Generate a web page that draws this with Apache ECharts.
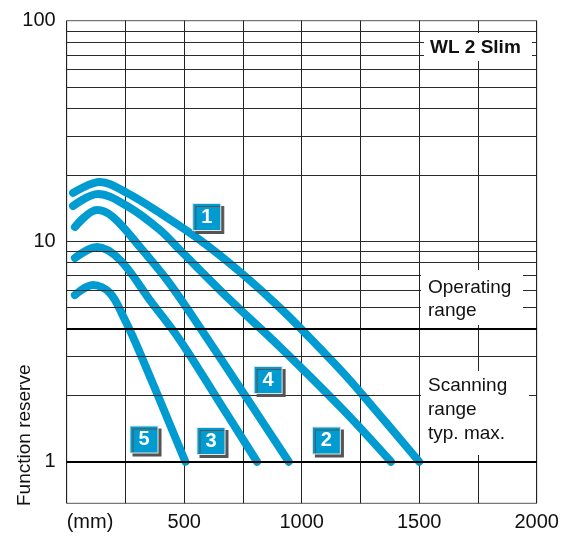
<!DOCTYPE html>
<html>
<head>
<meta charset="utf-8">
<script src="https://cdn.jsdelivr.net/npm/echarts@6/dist/echarts.min.js"></script>
<style>
  html, body { margin: 0; padding: 0; background: #fff; }
  #chart { width: 572px; height: 539px; }
</style>
</head>
<body>
<div id="chart"></div>
<script>
// scanning distance (mm) and function reserve for each curve
const distA = [27, 142, 257, 397, 567, 738, 908, 1035, 1193, 1303, 1500];
const reserveA = [16.55, 18.56, 16.55, 13.43, 10.13, 7.25, 4.98, 3.64, 2.42, 1.77, 1.0];

const distB = [27, 133, 257, 397, 482, 686, 908, 1176, 1380];
const reserveB = [14.44, 16.37, 14.44, 11.24, 9.12, 5.53, 3.31, 1.72, 1.0];

const distC = [35, 129, 197, 312, 427, 537, 738, 945];
const reserveC = [11.6, 13.85, 12.88, 9.41, 6.67, 4.53, 2.16, 1.0];

const distD = [35, 129, 227, 354, 482, 644, 810];
const reserveD = [8.39, 9.41, 8.22, 5.41, 3.56, 1.905, 1.0];

const distE = [35, 112, 184, 248, 312, 505];
const reserveE = [5.7, 6.33, 5.82, 4.39, 3.11, 1.0];

const curveNames = ['1', '2', '3', '4', '5'];
const labelDist = [596, 1105, 614, 857, 329];
const labelReserve = [12.88, 1.248, 1.241, 2.347, 1.261];

const gridValues = [2, 3, 5, 6, 7, 8, 9, 10, 20, 30, 40, 50, 60, 70, 80, 90];
const boldValues = [1, 4];
const yTickLabels = [1, 10, 100];

const blue = '#009bd0';
const font = 'Liberation Sans';

const zip = (xs, ys) => xs.map((x, i) => [x, ys[i]]);

const curve = (xs, ys) => ({
  type: 'line',
  data: zip(xs, ys),
  smooth: 0.35,
  showSymbol: false,
  silent: true,
  z: 3,
  lineStyle: { color: blue, width: 8, cap: 'round', join: 'round' }
});

const chart = echarts.init(document.getElementById('chart'));

chart.setOption({
  animation: false,
  grid: {
    left: 66.7, right: 35.3, top: 20.7, bottom: 35.7,
    show: true, borderColor: '#555', borderWidth: 1
  },
  xAxis: {
    type: 'value',
    min: 0, max: 2000, interval: 250,
    axisLine: { show: false },
    axisTick: { show: false },
    splitLine: { show: true, lineStyle: { color: '#222', width: 1 } },
    axisLabel: {
      margin: 9,
      fontFamily: font, fontSize: 20, color: '#111',
      alignMinLabel: 'left',
      formatter: v => (v === 0 ? '(mm)' : (v % 500 === 0 ? String(v) : ''))
    }
  },
  yAxis: {
    type: 'log',
    min: 0.648, max: 100,
    axisLine: { show: false },
    axisTick: { show: false },
    splitLine: { show: false },
    axisLabel: {
      margin: 11,
      fontFamily: font, fontSize: 20, color: '#111',
      formatter: v => (yTickLabels.some(t => Math.abs(v - t) / t < 0.01) ? String(Math.round(v)) : '')
    }
  },
  series: [
    {
      type: 'line',
      data: [],
      z: 1,
      silent: true,
      markLine: {
        silent: true,
        symbol: 'none',
        label: { show: false },
        animation: false,
        data: gridValues.map(v => ({ yAxis: v, lineStyle: { color: '#2a2a2a', width: 1, type: 'solid' } }))
          .concat(boldValues.map(v => ({ yAxis: v, lineStyle: { color: '#000', width: 2, type: 'solid' } })))
      }
    },
    curve(distA, reserveA),
    curve(distB, reserveB),
    curve(distC, reserveC),
    curve(distD, reserveD),
    curve(distE, reserveE),
    {
      type: 'scatter',
      z: 6,
      silent: true,
      symbol: 'rect',
      symbolSize: [28, 27],
      data: zip(labelDist, labelReserve).map((p, i) => ({ value: p, name: curveNames[i] })),
      itemStyle: {
        color: blue,
        opacity: 1,
        borderColor: '#e4e4e4',
        borderWidth: 1,
        shadowColor: '#555',
        shadowOffsetX: 3,
        shadowOffsetY: 3,
        shadowBlur: 0
      },
      label: {
        show: true,
        position: 'inside',
        formatter: p => p.name,
        color: '#fff',
        fontFamily: font,
        fontWeight: 'bold',
        fontSize: 20
      }
    }
  ],
  graphic: [
    { type: 'rect', z: 10, shape: { x: 424, y: 33, width: 108, height: 28 }, style: { fill: '#fff' } },
    { type: 'text', z: 11, x: 430, y: 47.5,
      style: { text: 'WL 2 Slim', fontFamily: font, fontSize: 19, fontWeight: 'bold', fill: '#111', align: 'left', verticalAlign: 'middle' } },
    { type: 'rect', z: 10, shape: { x: 421, y: 270, width: 102, height: 55 }, style: { fill: '#fff' } },
    { type: 'text', z: 11, x: 428, y: 299,
      style: { text: 'Operating\nrange', fontFamily: font, fontSize: 19, lineHeight: 23, fill: '#111', align: 'left', verticalAlign: 'middle' } },
    { type: 'rect', z: 10, shape: { x: 421, y: 371, width: 108, height: 84 }, style: { fill: '#fff' } },
    { type: 'text', z: 11, x: 428, y: 410,
      style: { text: 'Scanning\nrange\ntyp. max.', fontFamily: font, fontSize: 19, lineHeight: 24, fill: '#111', align: 'left', verticalAlign: 'middle' } },
    { type: 'text', z: 11, x: 25, y: 506, rotation: Math.PI / 2,
      style: { text: 'Function reserve', fontFamily: font, fontSize: 19, fill: '#111', align: 'left', verticalAlign: 'middle' } }
  ]
});
</script>
</body>
</html>
